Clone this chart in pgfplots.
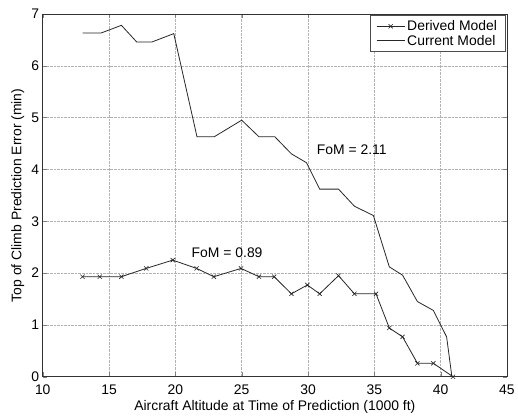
\documentclass[border=0pt]{standalone}
\usepackage{pgfplots}
\pgfplotsset{compat=1.18}
\usepackage{fontspec}
\setmainfont{Liberation Sans}
\begin{document}
\begin{tikzpicture}
\begin{axis}[
  scale only axis,
  width=467pt, height=365pt,
  xmin=10, xmax=45, ymin=0, ymax=7,
  xtick={10,15,...,45}, ytick={0,1,...,7},
  tick align=inside,
  axis line style={line width=0.8pt, black!80},
  grid=major,
  major grid style={densely dotted, gray!60, line width=0.5pt},
  /pgf/number format/assume math mode=true,
  ticklabel style={font=\fontsize{14}{16}\selectfont},
  xticklabel style={anchor=base, yshift=-18pt},
  label style={font=\fontsize{14}{16}\selectfont},
  xlabel={Aircraft Altitude at Time of Prediction (1000 ft)},
  ylabel={Top of Climb Prediction Error (min)},
  xlabel style={at={(axis description cs:0.5,0)}, anchor=base, yshift=-34pt},
  ylabel style={at={(axis description cs:0,0.5)}, anchor=center, yshift=25pt},
  legend style={at={(0.996,0.996)}, anchor=north east, font=\fontsize{14}{16}\selectfont, draw=black!70, inner xsep=6pt, inner ysep=3pt, row sep=-1pt},
  legend cell align=left,
  legend image code/.code={\draw[mark repeat=2,mark phase=2] plot coordinates {(0cm,0cm) (0.5cm,0cm) (1cm,0cm)};},
]
\addplot[black!85, line width=0.8pt, mark=x, mark size=3pt, mark options={line width=0.6pt}] coordinates {
(13.0,1.93) (14.3,1.93) (15.93,1.93) (17.8,2.09) (19.8,2.25) (21.6,2.09) (22.9,1.93)
(24.95,2.09) (26.3,1.93) (27.45,1.93) (28.75,1.60) (29.95,1.77) (30.88,1.60) (32.3,1.95)
(33.5,1.60) (35.13,1.60) (36.13,0.94) (37.13,0.77) (38.25,0.26) (39.45,0.26) (40.93,0)
};
\addlegendentry{Derived Model}
\addplot[black!85, line width=0.8pt] coordinates {
(13.0,6.63) (14.38,6.63) (15.93,6.78) (17.08,6.46) (18.25,6.46) (19.88,6.62) (21.63,4.63)
(22.93,4.63) (25.0,4.95) (26.3,4.63) (27.5,4.63) (28.75,4.30) (29.88,4.13) (30.88,3.62)
(32.3,3.62) (33.5,3.29) (34.93,3.11) (36.13,2.12) (37.13,1.96) (38.25,1.45) (39.45,1.28)
(40.45,0.77) (40.85,0)
};
\addlegendentry{Current Model}
\node[font=\fontsize{14}{16}\selectfont] at (axis cs:33.3,4.38) {FoM = 2.11};
\node[font=\fontsize{14}{16}\selectfont] at (axis cs:23.9,2.39) {FoM = 0.89};
\end{axis}
\path (-43pt,-37pt) rectangle (475pt,379pt);
\end{tikzpicture}
\end{document}
